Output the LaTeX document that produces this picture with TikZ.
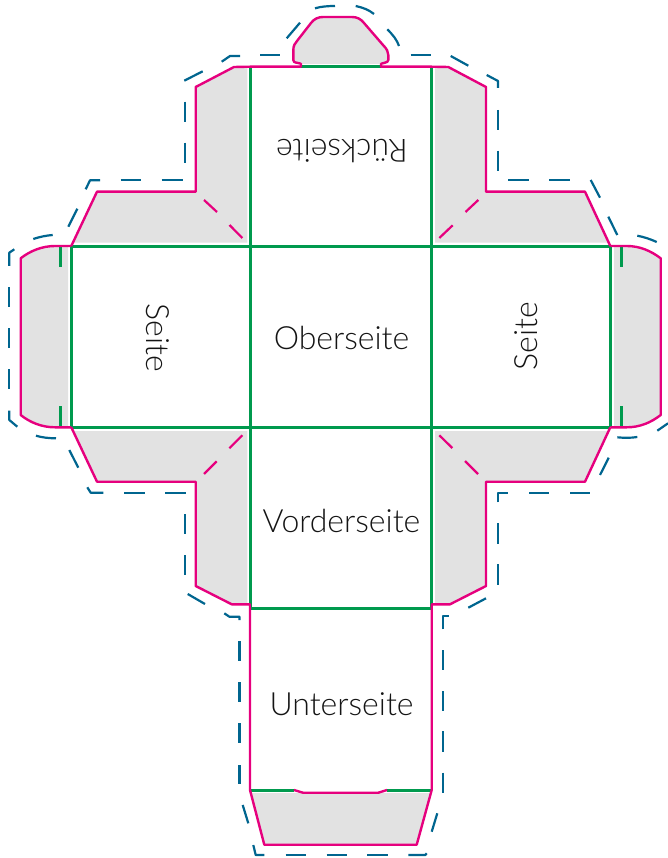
\documentclass[tikz,border=0pt]{standalone}
\usepackage{fontspec}
\setmainfont{Lato Light}
\definecolor{cutpink}{HTML}{E6007E}
\definecolor{foldgreen}{HTML}{009A4E}
\definecolor{bleedblue}{HTML}{00658F}
\definecolor{flapgray}{HTML}{E2E2E2}
\tikzset{
  cutline/.style={draw=cutpink,line width=2.4pt,line join=round},
  diag/.style={draw=cutpink,line width=2.2pt},
  fold/.style={draw=foldgreen,line width=2.5pt},
  bleed/.style={draw=bleedblue,line width=2.2pt,line join=round},
  flap/.style={fill=flapgray,draw=none},
  sidelabel/.style={font=\fontsize{32}{34}\selectfont,text=black!92,inner sep=0pt},
}
\begin{document}
\begin{tikzpicture}[x=1pt,y=-1pt]
\useasboundingbox (0,0) rectangle (668,858);
% grey flaps
\fill[flap] (234,67)--(195.7,87)--(195.7,191.7)--(97,191.7)--(73.5,242.7)--(247.3,242.7)--(247.3,67)--cycle;
\fill[flap] (448.3,67)--(486,87)--(486,191.7)--(585,191.7)--(608.3,242.7)--(435,242.7)--(435,67)--cycle;
\fill[flap] (97,481.7)--(195.7,481.7)--(195.7,586)--(231.7,604.3)--(247.3,604.3)--(247.3,431)--(73.5,431)--cycle;
\fill[flap] (585,481.7)--(486,481.7)--(486,586)--(450,604.3)--(435,604.3)--(435,431)--(608.3,431)--cycle;
\fill[flap] (301,64) .. controls (296,63) and (293.3,63) .. (293.3,58)--(293.3,50) .. controls (293.3,46) and (295,43) .. (297,41)--(311,23) .. controls (314,19) and (318,17) .. (323,17)--(352,17) .. controls (357,17) and (361,19) .. (364,23)--(383,45) .. controls (387,49) and (388.3,52) .. (388.3,55)--(388.3,60) .. controls (388.3,62) and (384,62) .. (381,64)--cycle;
\fill[flap] (68,246)--(55,246) .. controls (42,246) and (30,251) .. (20.7,258.3)--(20.7,415) .. controls (30,422.5) and (42,427.3) .. (55,427.3)--(68,427.3)--cycle;
\fill[flap] (614,246)--(626.7,246) .. controls (640,246) and (651,251) .. (660.7,258.3)--(660.7,415) .. controls (651,422.5) and (640,427.3) .. (626.7,427.3)--(614,427.3)--cycle;
\fill[flap] (251,793)--(431,793)--(416.7,844.7)--(264.3,844.7)--cycle;
% fold lines
\draw[fold] (71.3,246.4)--(610.3,246.4);
\draw[fold] (71.3,427.4)--(610.3,427.4);
\draw[fold] (250.4,66.7)--(250.4,608.6)--(431.6,608.6)--(431.6,66.7);
\draw[fold] (71.4,246)--(71.4,427.3);
\draw[fold] (610.4,246)--(610.4,427.3);
\draw[fold] (301,66.6)--(381,66.6);
\draw[fold] (250,790.4)--(294,790.4);
\draw[fold] (387,790.4)--(431.7,790.4);
\draw[fold] (60.5,246)--(60.5,267.3);
\draw[fold] (60.5,406)--(60.5,427.3);
\draw[fold] (621.4,246)--(621.4,267.3);
\draw[fold] (621.4,406)--(621.4,427.3);
% cut outline
\draw[cutline] (71.3,246)--(97,191.7)--(195.7,191.7)--(195.7,87)--(234,67)--(250,66.7)--(301,66.7)
  .. controls (302,64) and (301,63.5) .. (298,63) .. controls (294,62.5) and (293.3,61.5) .. (293.3,60)--(293.3,50) .. controls (293.3,46) and (295,43) .. (297,41)--(311,23) .. controls (314,19) and (318,17) .. (323,17)--(352,17) .. controls (357,17) and (361,19) .. (364,23)--(383,45) .. controls (387,49) and (388.3,52) .. (388.3,55)--(388.3,60) .. controls (388.3,61.5) and (387,62.5) .. (384,63) .. controls (381,63.5) and (380,64) .. (381,66.7)
  --(431.7,66.7)--(448.3,67)--(486,87)--(486,191.7)--(585,191.7)--(610.3,246);
\draw[cutline] (610.3,427.3)--(585,481.7)--(486,481.7)--(486,586)--(450,604.3)--(431.7,604.3)--(431.7,790)--(416.7,844.7)--(264.3,844.7)--(250,790)--(250,604.3)--(231.7,604.3)--(195.7,586)--(195.7,481.7)--(97,481.7)--(71.3,427.3);
\draw[cutline] (294,790)--(303,792.7)--(378.3,792.7)--(387,790);
\draw[cutline] (71.3,246)--(55,246) .. controls (42,246) and (30,251) .. (20.7,258.3)--(20.7,415) .. controls (30,422.5) and (42,427.3) .. (55,427.3)--(71.3,427.3);
\draw[cutline] (610.3,246)--(626.7,246) .. controls (640,246) and (651,251) .. (660.7,258.3)--(660.7,415) .. controls (651,422.5) and (640,427.3) .. (626.7,427.3)--(610.3,427.3);
% dashed corner creases
\draw[diag] (204,200)--(217,212) (229.5,225)--(242.3,238);
\draw[diag] (478.3,200)--(465.5,212) (452.7,225.3)--(439.3,238);
\draw[diag] (242.3,435.3)--(229.3,448.3) (216.7,461.3)--(204,474);
\draw[diag] (439.3,435.3)--(452.3,448) (465,461)--(478,474);
% bleed line: top
\draw[bleed] (315,8.3) .. controls (321,6.5) and (328,6) .. (335,6);
\draw[bleed] (355.7,6) .. controls (363,7.5) and (369,10) .. (374,14);
\draw[bleed] (286.7,38.3)--(300,22.7);
\draw[bleed] (387.3,29.3) .. controls (393,35) and (397,40) .. (399,46);
\draw[bleed] (260,55.3)--(280,55.3);
\draw[bleed] (221.7,61.7)--(230,56)--(240,56);
\draw[bleed] (184.3,80.7)--(202.7,71.3);
\draw[bleed] (184.7,101.7)--(184.7,121.7);
\draw[bleed] (184.7,142.7)--(184.7,162.7);
\draw[bleed] (161.7,180.3)--(182.7,180.3);
\draw[bleed] (120.7,180.3)--(141.3,180.3);
\draw[bleed] (85.7,189.3)--(90,180.3)--(100,180.3);
\draw[bleed] (68.3,226.7)--(77.3,208.7);
% left tab
\draw[bleed] (33.3,239) .. controls (39,237) and (46,235.5) .. (52.7,235);
\draw[bleed] (9.3,266)--(9.3,252.7)--(14.3,249.3);
\draw[bleed] (9.3,287.3)--(9.3,307.3);
\draw[bleed] (9.3,328.3)--(9.3,348.3);
\draw[bleed] (9.3,369.3)--(9.3,389.3);
\draw[bleed] (9.3,410.7)--(9.3,420)--(17.3,426.7);
\draw[bleed] (36,435.7) .. controls (42,437.5) and (49,438.3) .. (56,438.3);
% lower left
\draw[bleed] (69.3,450)--(78.3,467.7);
\draw[bleed] (87.3,487.3)--(90.7,492.7)--(103.3,492.7);
\draw[bleed] (124,492.7)--(144.7,492.7);
\draw[bleed] (165,492.7)--(185.7,492.7);
\draw[bleed] (184.7,514.3)--(184.7,534.3);
\draw[bleed] (184.7,555)--(184.7,575);
\draw[bleed] (187.7,594)--(205,604);
\draw[bleed] (224.3,613.3)--(229.3,616.7)--(239.5,616.7)--(239.5,620);
\draw[bleed] (239.5,641)--(239.5,661);
\draw[bleed] (239.5,682)--(239.5,702);
\draw[bleed] (239.5,723)--(239.5,743);
\draw[bleed] (239.5,765)--(239.5,784.3);
\draw[bleed] (242.7,805)--(248.3,823.3);
% bottom
\draw[bleed] (253.3,845)--(255.7,855)--(264.3,855);
\draw[bleed] (285.7,855)--(306,855);
\draw[bleed] (326.7,855)--(346.7,855);
\draw[bleed] (367.3,855)--(387.7,855);
\draw[bleed] (408.3,855)--(425.3,855)--(426.7,853.3);
\draw[bleed] (431.7,831.7)--(437.3,813.3);
\draw[bleed] (442.7,772.7)--(442.7,792.7);
\draw[bleed] (442.7,731)--(442.7,751.7);
\draw[bleed] (442.7,691)--(442.7,711);
\draw[bleed] (442.7,650)--(442.7,670);
\draw[bleed] (442.7,629.3)--(442.7,616)--(449.3,616);
% lower right
\draw[bleed] (468.3,607.7)--(486,598.3);
\draw[bleed] (498,564.3)--(498,585);
\draw[bleed] (498,523.3)--(498,544);
\draw[bleed] (498,502.3)--(498,492.7)--(508.3,492.7);
\draw[bleed] (529,492.7)--(549,492.7);
\draw[bleed] (570,492.7)--(590,492.7);
\draw[bleed] (600,475)--(608.7,457.7);
\draw[bleed] (617.3,437.3) .. controls (624,438) and (631,438) .. (637.3,437);
\draw[bleed] (657.3,430.7)--(668,423.3);
% upper right
\draw[bleed] (637.3,235.7) .. controls (644,237) and (650,239) .. (656.7,242);
\draw[bleed] (608.3,216.7)--(617.3,235);
\draw[bleed] (590.7,180)--(600,197.7);
\draw[bleed] (549.3,180.3)--(570,180.3);
\draw[bleed] (508.3,180.3)--(529,180.3);
\draw[bleed] (498,150.7)--(498,170.7);
\draw[bleed] (498,110)--(498,130);
\draw[bleed] (486.7,75)--(498,81)--(498,88);
\draw[bleed] (450.7,56)--(468.3,65.7);
\draw[bleed] (410.7,55.3)--(430.7,55.3);
% labels
\node[sidelabel,rotate=180] (back) at (342,151) {Rückseite};
\node[sidelabel] (top) at (341.5,338) {Oberseite};
\node[sidelabel] (front) at (341.5,521) {Vorderseite};
\node[sidelabel] (bottom) at (341.5,704) {Unterseite};
\node[sidelabel,rotate=-90] (left) at (157.5,338) {Seite};
\node[sidelabel,rotate=90] (right) at (526,336) {Seite};
\end{tikzpicture}
\end{document}
